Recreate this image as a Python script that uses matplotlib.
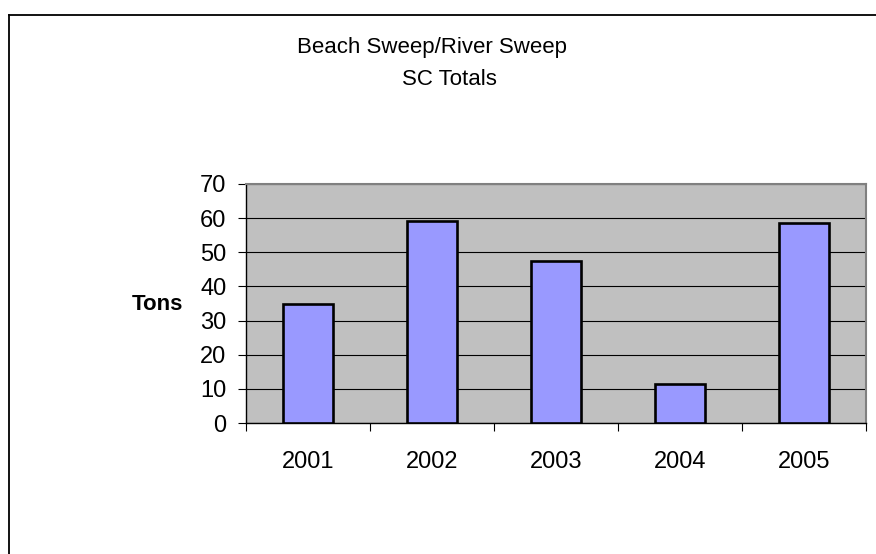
import matplotlib
matplotlib.use("Agg")
import matplotlib.pyplot as plt
from matplotlib.lines import Line2D
from matplotlib.ticker import FixedLocator

# Data
years = ["2001", "2002", "2003", "2004", "2005"]
tons = [35.0, 59.2, 47.4, 11.4, 58.5]
y_ticks = [0, 10, 20, 30, 40, 50, 60, 70]

plt.rcParams["font.family"] = ["Liberation Sans", "DejaVu Sans"]

W, H = 876, 554
fig = plt.figure(figsize=(W / 100, H / 100), dpi=100)
fig.patch.set_facecolor("white")

# Plot area in pixel coordinates -> figure fractions
left_px, right_px, top_px, bottom_px = 246, 866, 184, 423
ax = fig.add_axes([left_px / W, 1 - bottom_px / H,
                   (right_px - left_px) / W, (bottom_px - top_px) / H])
ax.set_facecolor("#C0C0C0")

x = list(range(len(years)))
ax.bar(x, tons, width=0.4, color="#9999FF", edgecolor="black",
       linewidth=1.9, zorder=3)

ax.set_xlim(-0.5, len(years) - 0.5)
ax.set_ylim(0, 70)

# Y axis
ax.set_yticks(y_ticks)
ax.set_yticklabels([str(v) for v in y_ticks])
ax.yaxis.grid(True, color="black", linewidth=0.8, zorder=1)
ax.set_axisbelow(True)
ax.tick_params(axis="y", direction="out", length=6, width=0.8,
               pad=8, labelsize=17, colors="black")

# X axis: labels at category centres, tick marks at category boundaries
ax.set_xticks(x)
ax.set_xticklabels(years)
ax.xaxis.set_minor_locator(FixedLocator([i - 0.5 for i in range(len(years) + 1)]))
ax.tick_params(axis="x", which="major", length=0, pad=20.5, labelsize=17)
ax.tick_params(axis="x", which="minor", direction="out", length=6, width=0.8)

for side in ("left", "bottom"):
    ax.spines[side].set_color("black")
    ax.spines[side].set_linewidth(1.0)
for side in ("top", "right"):
    ax.spines[side].set_color("#808080")
    ax.spines[side].set_linewidth(1.5)

# Axis title
fig.text(157 / W, 1 - 310.5 / H, "Tons", ha="center", va="baseline",
         fontsize=16, fontweight="bold")

# Chart title
fig.text(432 / W, 1 - 53.5 / H, "Beach Sweep/River Sweep", ha="center",
         va="baseline", fontsize=16)
fig.text(449 / W, 1 - 85 / H, "SC Totals", ha="center", va="baseline",
         fontsize=16)

# Outer chart border (left and top edges)
fig.add_artist(Line2D([8.5 / W, 8.5 / W], [0, 1 - 14.5 / H],
                      transform=fig.transFigure, color="black", linewidth=1.3))
fig.add_artist(Line2D([8.5 / W, 1], [1 - 14.5 / H, 1 - 14.5 / H],
                      transform=fig.transFigure, color="black", linewidth=1.3))

fig.savefig("out.png", dpi=100)
